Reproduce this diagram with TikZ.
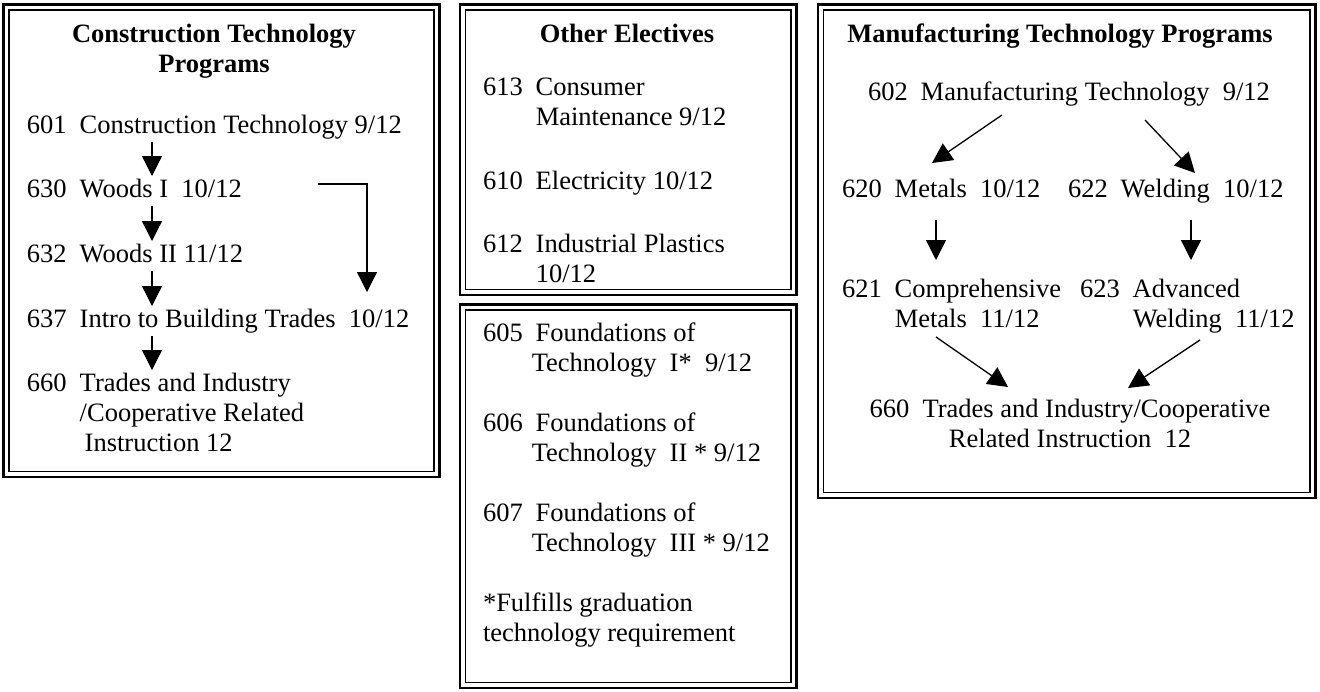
\documentclass[tikz,border=0pt]{standalone}
\usepackage{fontspec}
\setmainfont{Liberation Serif}
\usetikzlibrary{arrows.meta,calc}

% course text: number column, then the title lines
\newcommand\coursefont{\fontsize{26.5}{30}\selectfont}
\newcommand\course[2]{\begin{tabular}[t]{@{}l@{\hspace{13pt}}l@{}}#1&#2\end{tabular}}
\newcommand\centredlines[1]{\begin{tabular}[t]{@{}c@{}}#1\end{tabular}}
\newcommand\leftlines[1]{\begin{tabular}[t]{@{}l@{}}#1\end{tabular}}

% thick-thin double frame, given by the centres of the outer line
\newcommand\doubleframe[4]{%
  \draw[outerframe] (#1,#2) rectangle (#3,#4);
  \draw[innerframe] ($(#1,#2)+(5.5,5.5)$) rectangle ($(#3,#4)+(-5.5,-5.5)$);}

\tikzset{
  outerframe/.style={line width=2.6pt},
  innerframe/.style={line width=1.1pt},
  txt/.style={inner sep=0pt, outer sep=0pt, font=\coursefont, anchor=base west},
  heading/.style={inner sep=0pt, outer sep=0pt, font=\coursefont\bfseries, anchor=base},
  arr/.style={-{Triangle[width=20pt,length=20pt]}, line width=1.3pt},
}

\begin{document}
\begin{tikzpicture}[x=1pt,y=-1pt]
\useasboundingbox (0,0) rectangle (1320,691);
\fill[white] (0,0) rectangle (1320,691);

% frames
\doubleframe{3.5}{4.5}{439.5}{477}
\doubleframe{460}{4.5}{796.5}{295}
\doubleframe{460}{304.5}{796.5}{688}
\doubleframe{818}{4.5}{1315.5}{498}

% ---- Construction Technology Programs ----
\node[heading] (hcon) at (214,42) {\centredlines{Construction Technology\\Programs}};
\node[txt] (c601) at (27,133) {\course{601}{Construction Technology 9/12}};
\node[txt] (c630) at (27,197) {\course{630}{Woods I~~10/12}};
\node[txt] (c632) at (27,262) {\course{632}{Woods II 11/12}};
\node[txt] (c637) at (27,327) {\course{637}{Intro to Building Trades~~10/12}};
\node[txt] (c660a) at (27,391) {\course{660}{Trades and Industry\\&/Cooperative Related\\&\hspace*{5pt}Instruction 12}};

\coordinate (ax) at (152,0);
\draw[arr] (c601.south -| ax) -- (c630.north -| ax);
\draw[arr] (c630.south -| ax) -- (c632.north -| ax);
\draw[arr] (c632.south -| ax) -- (c637.north -| ax);
\draw[arr] (c637.south -| ax) -- (c660a.north -| ax);
\draw[arr] ($(c630.base west)+(291,-13)$) -| ($(c637.base west)+(340,-35)$);

% ---- Other Electives ----
\node[heading] (hoth) at (627,42) {Other Electives};
\node[txt] (c613) at (483,95) {\course{613}{Consumer\\&Maintenance 9/12}};
\node[txt] (c610) at (483,189) {\course{610}{Electricity 10/12}};
\node[txt] (c612) at (483,252) {\course{612}{Industrial Plastics\\&10/12}};

% ---- Foundations of Technology ----
\node[txt] (c605) at (483,341) {\course{605}{Foundations of\\&\hspace*{-4pt}Technology~~I*~~9/12}};
\node[txt] (c606) at (483,431) {\course{606}{Foundations of\\&\hspace*{-4pt}Technology~~II * 9/12}};
\node[txt] (c607) at (483,521) {\course{607}{Foundations of\\&\hspace*{-4pt}Technology~~III * 9/12}};
\node[txt] (note) at (483,611) {\leftlines{*Fulfills graduation\\technology requirement}};

% ---- Manufacturing Technology Programs ----
\node[heading] (hman) at (1060,42) {Manufacturing Technology Programs};
\node[txt] (c602) at (868,100) {\course{602}{Manufacturing Technology~~9/12}};
\node[txt] (c620) at (842,197) {\course{620}{Metals~~10/12}};
\node[txt] (c622) at (1068,197) {\course{622}{Welding~~10/12}};
\node[txt] (c621) at (842,297) {\course{621}{Comprehensive\\&Metals~~11/12}};
\node[txt] (c623) at (1080,297) {\course{623}{Advanced\\&Welding~~11/12}};
\node[txt, anchor=base] (c660b) at (1070,417) {\centredlines{660~~Trades and Industry/Cooperative\\Related Instruction~~12}};

\draw[arr] ($(c602.base west)+(134,15)$) -- ($(c620.base west)+(90,-34)$);
\draw[arr] ($(c602.base west)+(277,20)$) -- ($(c622.base west)+(127,-24)$);
\draw[arr] ($(c620.base west)+(94,23)$) -- ($(c621.base west)+(94,-37)$);
\draw[arr] ($(c622.base west)+(123,23)$) -- ($(c623.base west)+(111,-37)$);
\draw[arr] ($(c621.base west)+(94,40)$) -- ($(c660b.base)+(-62,-30)$);
\draw[arr] ($(c623.base west)+(120,43)$) -- ($(c660b.base)+(58,-29)$);
\end{tikzpicture}
\end{document}
